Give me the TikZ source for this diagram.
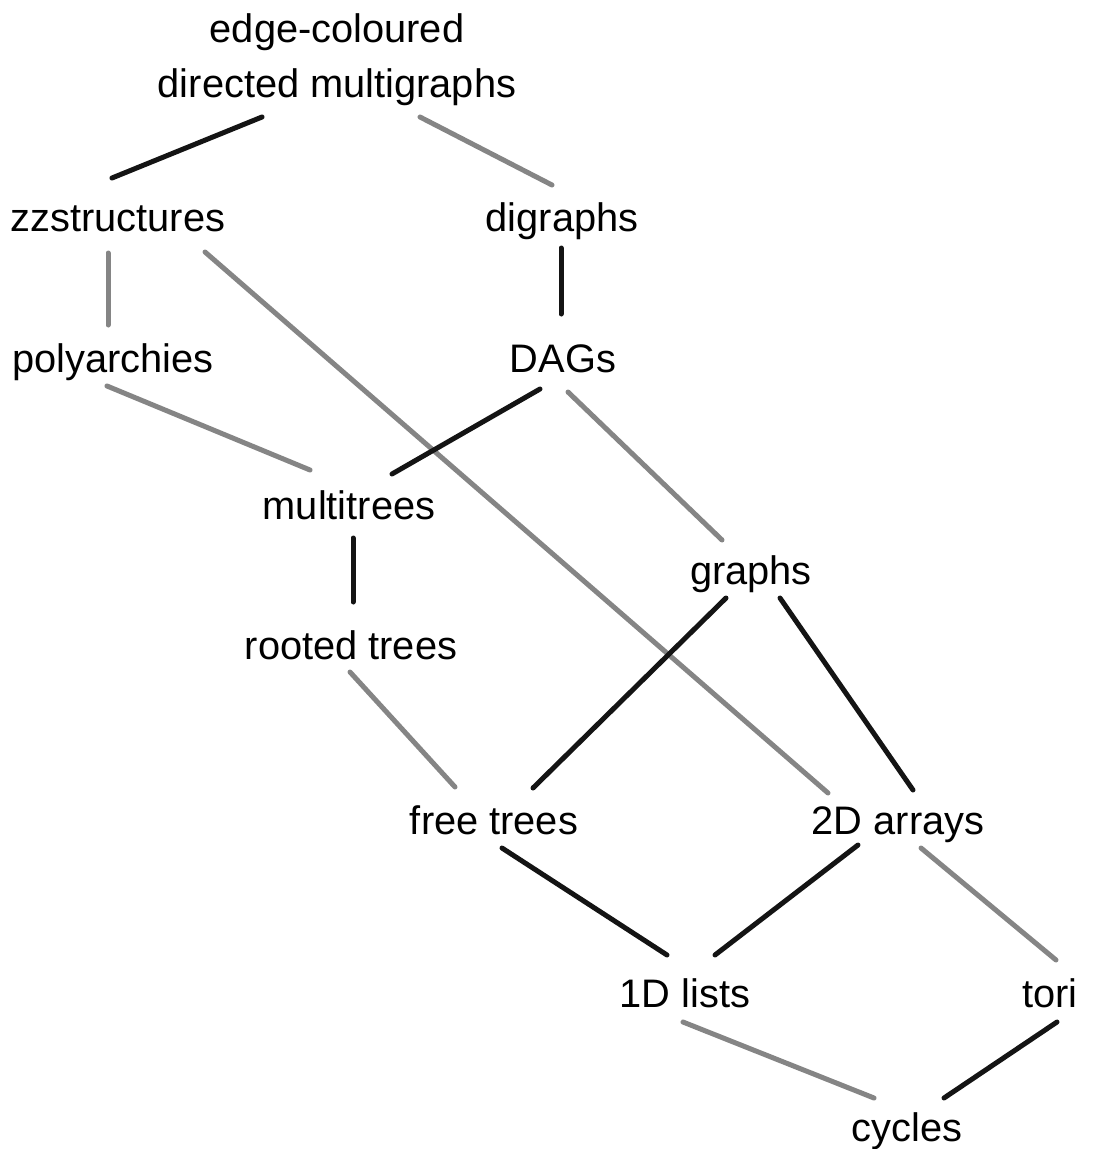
\documentclass[tikz,border=0pt]{standalone}
\usepackage{fontspec}
\setmainfont{Liberation Sans}
\usetikzlibrary{calc}
\tikzset{
  lbl/.style={font=\fontsize{39.8}{55}\selectfont, inner sep=0pt, anchor=base},
  strong/.style={draw=black!92, line width=5pt, line cap=round},
  weak/.style={draw=black!48, line width=5pt, line cap=round}
}
\begin{document}
\begin{tikzpicture}[x=1pt, y=-1pt]
\useasboundingbox (0,0) rectangle (1109,1149);
% structures
\node[lbl, anchor=center, align=center] (mg) at (337,60) {edge-coloured\\directed multigraphs};
\node[lbl] (zz)   at (118,231)  {zzstructures};
\node[lbl] (dg)   at (562,231)  {digraphs};
\node[lbl] (poly) at (113,372)  {polyarchies};
\node[lbl] (dag)  at (563,372)  {DAGs};
\node[lbl] (mt)   at (349,519)  {multitrees};
\node[lbl] (gr)   at (751,584)  {graphs};
\node[lbl] (rt)   at (351,659)  {rooted trees};
\node[lbl] (ft)   at (494,834)  {free trees};
\node[lbl] (arr)  at (898,834)  {2D arrays};
\node[lbl] (l1)   at (685,1007) {1D lists};
\node[lbl] (tori) at (1050,1007){tori};
\node[lbl] (cyc)  at (907,1141) {cycles};
% inclusions
\draw[strong] ($(mg)+(-75,57)$)     -- ($(zz.base)+(-6,-53)$);
\draw[weak]   ($(mg)+(83,57)$)      -- ($(dg.base)+(-10,-46)$);
\draw[weak]   ($(zz.base)+(-10,22)$) -- ($(poly.base)+(-5,-47)$);
\draw[weak]   ($(zz.base)+(87,21)$)  -- ($(arr.base)+(-70,-41)$);
\draw[strong] ($(dg.base)+(-1,17)$)  -- ($(dag.base)+(-2,-58)$);
\draw[weak]   ($(poly.base)+(-6,14)$) -- ($(mt.base)+(-39,-49)$);
\draw[strong] ($(dag.base)+(-23,17)$) -- ($(mt.base)+(43,-45)$);
\draw[weak]   ($(dag.base)+(5,20)$)  -- ($(gr.base)+(-29,-44)$);
\draw[strong] ($(mt.base)+(4,19)$)   -- ($(rt.base)+(2,-57)$);
\draw[weak]   ($(rt.base)+(-1,13)$)  -- ($(ft.base)+(-39,-47)$);
\draw[strong] ($(gr.base)+(-25,14)$) -- ($(ft.base)+(39,-46)$);
\draw[strong] ($(gr.base)+(29,14)$)  -- ($(arr.base)+(15,-44)$);
\draw[strong] ($(ft.base)+(8,14)$)   -- ($(l1.base)+(-18,-52)$);
\draw[strong] ($(arr.base)+(-40,11)$) -- ($(l1.base)+(30,-52)$);
\draw[weak]   ($(arr.base)+(23,14)$) -- ($(tori.base)+(6,-47)$);
\draw[weak]   ($(l1.base)+(-2,15)$)  -- ($(cyc.base)+(-33,-43)$);
\draw[strong] ($(tori.base)+(7,15)$) -- ($(cyc.base)+(37,-43)$);
\end{tikzpicture}
\end{document}
